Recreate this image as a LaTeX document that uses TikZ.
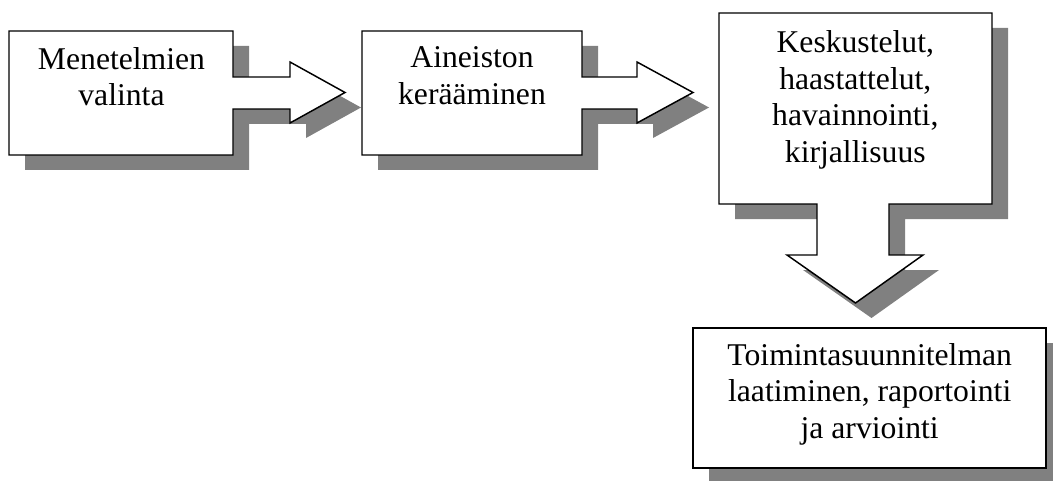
\documentclass[tikz,border=0pt]{standalone}
\usepackage{fontspec}
\setmainfont{Liberation Serif}
\usepackage{tikz}
\definecolor{shadowgray}{RGB}{128,128,128}
\tikzset{
  shadowshape/.style={fill=shadowgray, draw=none},
  boxshape/.style={draw=black, fill=white, line width=1.1pt, line join=miter},
  boxtext/.style={align=center, inner sep=0pt, font=\fontsize{23.75}{27.4}\selectfont}
}
\begin{document}
\begin{tikzpicture}[x=0.75pt,y=0.75pt,yscale=-1,xscale=1]
\useasboundingbox (0,0) rectangle (1053,481);

%Shadows
\fill [shadowshape, shift={(16,15)}] (9,31) -- (233,31) -- (233,77) -- (290,77) -- (290,62) -- (345,92.5) -- (290,123) -- (290,109) -- (233,109) -- (233,155) -- (9,155) -- cycle ;
\fill [shadowshape, shift={(16,15)}] (362,31) -- (582,31) -- (582,77) -- (637,77) -- (637,62) -- (693,92.5) -- (637,123) -- (637,109) -- (582,109) -- (582,155) -- (362,155) -- cycle ;
\fill [shadowshape, shift={(16,15)}] (719,13) -- (992,13) -- (992,204) -- (889,204) -- (889,255) -- (923,255) -- (855.5,303) -- (787,255) -- (817,255) -- (817,204) -- (719,204) -- cycle ;
\fill [shadowshape, shift={(16,15)}] (693,328) rectangle (1046,468) ;

%Shape: Right Arrow Callout [id:menetelmat]
\draw [boxshape] (9,31) -- (233,31) -- (233,77) -- (290,77) -- (290,62) -- (345,92.5) -- (290,123) -- (290,109) -- (233,109) -- (233,155) -- (9,155) -- cycle ;
%Shape: Right Arrow Callout [id:aineisto]
\draw [boxshape] (362,31) -- (582,31) -- (582,77) -- (637,77) -- (637,62) -- (693,92.5) -- (637,123) -- (637,109) -- (582,109) -- (582,155) -- (362,155) -- cycle ;
%Shape: Down Arrow Callout [id:keskustelut]
\draw [boxshape] (719,13) -- (992,13) -- (992,204) -- (889,204) -- (889,255) -- (923,255) -- (855.5,303) -- (787,255) -- (817,255) -- (817,204) -- (719,204) -- cycle ;
%Shape: Rectangle [id:toiminta]
\draw [boxshape] (693,328) rectangle (1046,468) ;

% Text Node
\draw (121.5,76.6) node [boxtext] (menetelmat) {Menetelmien\\valinta};
% Text Node
\draw (472,75.8) node [boxtext] (aineisto) {Aineiston\\kerääminen};
% Text Node
\draw (855.3,99.7) node [boxtext] (keskustelut) {Keskustelut,\\haastattelut,\\havainnointi,\\kirjallisuus};
% Text Node
\draw (869.7,394) node [boxtext] (toiminta) {Toimintasuunnitelman\\laatiminen, raportointi\\ja arviointi};

\end{tikzpicture}
\end{document}
